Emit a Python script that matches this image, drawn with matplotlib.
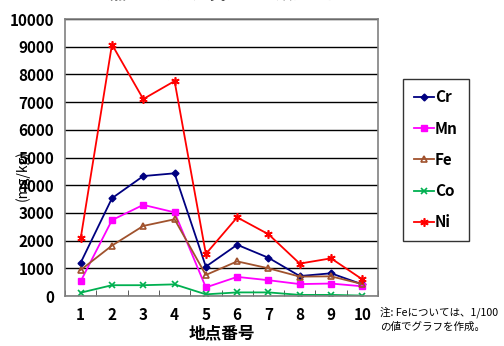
import numpy as np
import matplotlib.pyplot as plt

plt.rcParams['font.family'] = ['Noto Sans CJK JP', 'DejaVu Sans']

# sampling points and metal concentrations (Fe plotted at 1/100 of measured value)
sites = [1, 2, 3, 4, 5, 6, 7, 8, 9, 10]
cr = [1200, 3530, 4330, 4430, 1060, 1850, 1380, 720, 820, 420]
mn = [530, 2740, 3290, 3020, 310, 690, 570, 430, 450, 350]
fe = [940, 1820, 2530, 2770, 760, 1250, 1000, 700, 710, 430]
co = [120, 390, 390, 420, 60, 130, 130, 40, 40, 15]
ni = [2080, 9080, 7110, 7760, 1520, 2840, 2230, 1170, 1360, 600]

yticks = list(range(0, 10001, 1000))

fig = plt.figure(figsize=(5.04, 3.46), dpi=100)
ax = fig.add_axes([0.129, 0.1445, 0.621, 0.8005])

series = [
    ("Cr", cr, '#000080', dict(marker='D', markersize=3.5)),
    ("Mn", mn, '#FF00FF', dict(marker='s', markersize=4.5)),
    ("Fe", fe, '#A0522D', dict(marker='^', markersize=4.5, markerfacecolor='none', markeredgewidth=1.2)),
    ("Co", co, '#00B050', dict(marker='x', markersize=4.5, markeredgewidth=1.2)),
    ("Ni", ni, '#FF0000', dict(marker=(6, 2, 0), markersize=6, markeredgewidth=1.2)),
]
for name, vals, col, mk in series:
    ax.plot(sites, vals, color=col, linewidth=1.3, label=name, **mk)

ax.set_xlim(0.5, 10.5)
ax.set_ylim(0, 10000)
ax.set_yticks(yticks)
ax.set_xticks(sites)
ax.set_xticks(np.arange(0.5, 11, 1), minor=True)
ax.yaxis.grid(True, color='black', linewidth=1.0)
ax.set_axisbelow(True)
for s in ax.spines.values():
    s.set_color('#808080')
    s.set_linewidth(1.2)

ax.tick_params(axis='x', which='major', length=0, pad=8, labelsize=11)
ax.tick_params(axis='x', which='minor', direction='in', length=4, color='#404040')
ax.tick_params(axis='y', length=0, pad=8, labelsize=11)
for lab in ax.get_xticklabels() + ax.get_yticklabels():
    lab.set_fontweight('bold')

ax.set_xlabel("地点番号", fontsize=12, fontweight='bold', labelpad=1)
fig.text(0.044, 0.494, "(mg/kg)", rotation=90, fontsize=10,
         ha='center', va='center')

leg = ax.legend(loc='upper left', bbox_to_anchor=(1.08, 0.785), frameon=True,
                fancybox=False, handlelength=1.3, handletextpad=0.1,
                labelspacing=1.0, borderpad=0.7, borderaxespad=0,
                prop={'weight': 'bold', 'size': 11})
leg.get_frame().set_edgecolor('black')
leg.get_frame().set_linewidth(1.0)

fig.text(0.754, 0.078, "注: Feについては、1/100\nの値でグラフを作成。",
         fontsize=7.6, ha='left', va='center', linespacing=1.4)

# heading sits mostly above the top edge of the figure
fig.text(0.08, 1.016, "図-2 各地点における底質重金属類分析結果",
         fontsize=12, fontweight='bold', ha='left', va='center')

fig.savefig("out.png", dpi=100)
